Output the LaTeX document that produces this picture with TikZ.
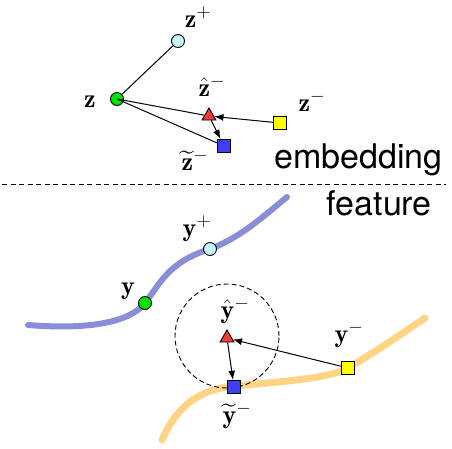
\documentclass[tikz,border=0pt]{standalone}
\usepackage{fontspec}
\usepackage{amsmath}
\newfontfamily\labelsans{TeX Gyre Heros}
\usetikzlibrary{arrows.meta,shapes.geometric}
\definecolor{cgreen}{HTML}{00E600}
\definecolor{ccyan}{HTML}{C4F6F8}
\definecolor{cred}{HTML}{F23C3C}
\definecolor{cyel}{HTML}{FFFF00}
\definecolor{cblue}{HTML}{3E3EF5}
\definecolor{cpurple}{HTML}{8A8ED8}
\definecolor{corange}{HTML}{FFD485}
\newcommand{\mylab}[1]{\scalebox{1.3}{$#1$}}
\tikzset{
  pt/.style={circle,draw=black,line width=0.9pt,inner sep=0pt,minimum size=13pt},
  sq/.style={rectangle,draw=black,line width=0.9pt,inner sep=0pt,minimum size=13.5pt},
  tri/.style={regular polygon,regular polygon sides=3,draw=black,line width=0.9pt,inner sep=0pt,minimum size=16pt,fill=cred},
  lab/.style={inner sep=0pt,font=\fontsize{20}{24}\selectfont},
  conn/.style={line width=1pt},
  arr/.style={line width=1pt,-{Latex[length=9pt,width=7pt]}},
  word/.style={inner sep=0pt,font=\labelsans\fontsize{34}{40}\selectfont}
}
\begin{document}
\begin{tikzpicture}[x=1pt,y=-1pt]
\useasboundingbox (0,0) rectangle (452,448);
% top: embedding
\node[pt,fill=ccyan] (zp) at (178,41) {};
\node[pt,fill=cgreen] (z) at (117,99) {};
\node[tri] (zh) at (209,116) {};
\node[sq,fill=cyel] (zm) at (280,123) {};
\node[sq,fill=cblue] (zt) at (224,146) {};
\draw[conn] (z) -- (zp);
\draw[conn] (z.center) -- (zh);
\draw[conn] (z.center) -- (zt);
\draw[arr] (zm) -- (zh);
\draw[arr] (zh) -- (zt);
\node[lab] (lzp) at (198,17) {\mylab{\mathbf{z}^+}};
\node[lab] (lz) at (90,102) {\mylab{\mathbf{z}}};
\node[lab] (lzh) at (212,86) {\mylab{\hat{\mathbf{z}}^-}};
\node[lab] (lzm) at (312,101) {\mylab{\mathbf{z}^-}};
\node[lab] (lzt) at (195,160) {\mylab{\widetilde{\mathbf{z}}^-}};
\node[word,anchor=base east] (emb) at (443,168) {embedding};
\coordinate (dl) at (2,184);
\coordinate (dr) at (446,184);
\draw[dashed,line width=0.9pt,dash pattern=on 5pt off 3.5pt] (dl) -- (dr);
\node[word,anchor=base east] (feat) at (432,215) {feature};
% bottom: feature
\draw[cpurple,line width=6pt,line cap=round] (28,325) .. controls (90,330) and (130,322) .. (145,303) .. controls (160,284) and (168,262) .. (210,249) .. controls (240,238) and (265,215) .. (287,197);
\draw[corange,line width=7pt,line cap=round] (162,440) .. controls (175,410) and (195,390) .. (234,386) .. controls (290,381) and (330,378) .. (348,368) .. controls (375,352) and (400,335) .. (425,318);
\node[circle,draw=black,dashed,line width=0.9pt,dash pattern=on 5pt off 3pt,minimum size=104pt,inner sep=0pt] (ball) at (227,336) {};
\node[pt,fill=cgreen] (y) at (145,303) {};
\node[pt,fill=ccyan] (yp) at (210,249) {};
\node[tri] (yh) at (227,338) {};
\node[sq,fill=cyel] (ym) at (348,368) {};
\node[sq,fill=cblue] (yt) at (234,387) {};
\draw[arr] (ym) -- (yh);
\draw[arr] (yh) -- (yt);
\node[lab] (ly) at (128,291) {\mylab{\mathbf{y}}};
\node[lab] (lyp) at (197,229) {\mylab{\mathbf{y}^+}};
\node[lab] (lyh) at (235,311) {\mylab{\hat{\mathbf{y}}^-}};
\node[lab] (lym) at (349,335) {\mylab{\mathbf{y}^-}};
\node[lab] (lyt) at (237,416) {\mylab{\widetilde{\mathbf{y}}^-}};
\end{tikzpicture}
\end{document}
